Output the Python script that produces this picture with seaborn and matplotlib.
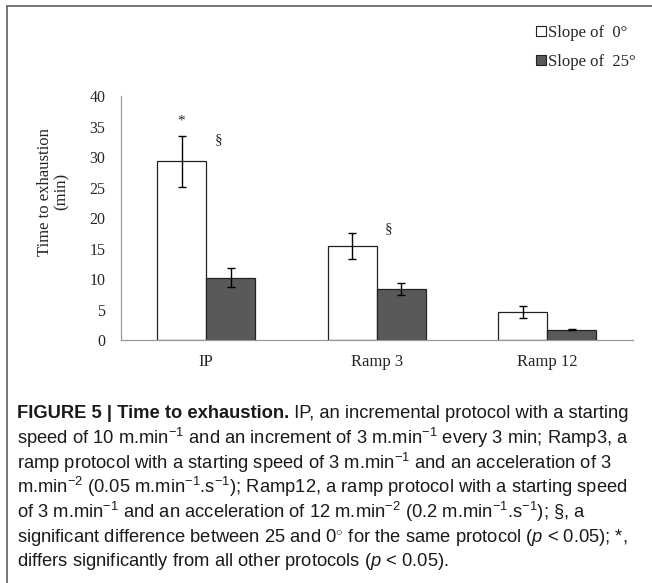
import numpy as np
import pandas as pd
import matplotlib
matplotlib.use("Agg")
import matplotlib.pyplot as plt
from matplotlib.lines import Line2D
import seaborn as sns

# data
protocols = ["IP", "Ramp 3", "Ramp 12"]
slopes = ["Slope of  0°", "Slope of  25°"]
time_0 = [29.3, 15.4, 4.55]
time_25 = [10.2, 8.4, 1.7]
err_0 = [4.2, 2.15, 1.0]
err_25 = [1.55, 0.95, 0.12]
# significance marks: (protocol index, slope index, symbol, height)
marks = [(0, 0, "*", 35.9), (0, 1, "§", 32.8), (1, 1, "§", 18.2)]

bar_colors = ["#ffffff", "#595959"]

df = pd.DataFrame({
    "protocol": protocols * 2,
    "slope": [slopes[0]] * 3 + [slopes[1]] * 3,
    "time": time_0 + time_25,
})

sns.set_style("white")
plt.rcParams["font.family"] = ["Liberation Serif", "DejaVu Serif"]
plt.rcParams["mathtext.fontset"] = "custom"
plt.rcParams["mathtext.rm"] = "Liberation Sans"
plt.rcParams["mathtext.it"] = "Liberation Sans:italic"
plt.rcParams["mathtext.bf"] = "Liberation Sans:bold"

fig = plt.figure(figsize=(6.52, 5.83), dpi=100)
ax = fig.add_axes([0.1851, 0.4168, 0.7853, 0.4185])

sns.barplot(data=df, x="protocol", y="time", hue="slope", order=protocols,
            hue_order=slopes, palette=bar_colors, width=0.574, errorbar=None,
            edgecolor="#222222", linewidth=0.9, legend=False, ax=ax)

# error bars on top of the bars seaborn drew
bars = ax.patches[:6]
errs = err_0 + err_25
vals = time_0 + time_25
for p, v, e in zip(bars, vals, errs):
    xc = p.get_x() + p.get_width() / 2
    ax.errorbar(xc, v, yerr=e, fmt="none", ecolor="black", elinewidth=1.0,
                capsize=3, capthick=1.0)

for pi, si, sym, y in marks:
    p = bars[si * 3 + pi]
    xc = p.get_x() + p.get_width() / 2
    if si == 1:
        xc = p.get_x() + p.get_width() * 0.25
    ax.text(xc, y, sym, ha="center", va="center", fontsize=11)

ax.set_ylim(0, 40)
ax.set_xlim(-0.5, 2.5)
ax.set_yticks(range(0, 41, 5))
ax.set_xticks(range(3))
ax.set_xticklabels(protocols)
ax.set_xticks([-0.5, 0.5, 1.5, 2.5], minor=True)
ax.tick_params(axis="x", which="major", length=0, pad=10, labelsize=12)
ax.tick_params(axis="x", which="minor", length=4, color="#999999", width=0.9)
ax.tick_params(axis="y", length=4, color="#999999", width=0.9, labelsize=11.5, pad=7)
ax.set_xlabel("")
ax.set_ylabel("Time to exhaustion\n(min)", fontsize=12, linespacing=1.0)
ax.yaxis.set_label_coords(-0.1, 0.607)
sns.despine(ax=ax)
for s in ["left", "bottom"]:
    ax.spines[s].set_color("#999999")
    ax.spines[s].set_linewidth(0.9)

handles = [Line2D([], [], marker="s", ls="none", markersize=6.5, markerfacecolor=c,
                  markeredgecolor="#222222", markeredgewidth=0.8) for c in bar_colors]
fig.legend(handles, slopes, loc="upper left", bbox_to_anchor=(0.818, 0.957),
           frameon=False, fontsize=12, handletextpad=0.0, handlelength=0.9,
           labelspacing=0.75, borderaxespad=0, borderpad=0)

# frame of the figure panel (left and top only)
fig.add_artist(Line2D([0.011, 0.011], [0, 0.99], transform=fig.transFigure,
                      color="#6b6b6b", lw=1.3))
fig.add_artist(Line2D([0.011, 1.0], [0.99, 0.99], transform=fig.transFigure,
                      color="#6b6b6b", lw=1.3))

# caption
cap_font = dict(family="Liberation Sans", fontsize=13.2, color="#1a1a1a")
cap_lines = [
    "speed of 10 m.min$^{-1}$ and an increment of 3 m.min$^{-1}$ every 3 min; Ramp3, a",
    "ramp protocol with a starting speed of 3 m.min$^{-1}$ and an acceleration of 3",
    "m.min$^{-2}$ (0.05 m.min$^{-1}$.s$^{-1}$); Ramp12, a ramp protocol with a starting speed",
    "of 3 m.min$^{-1}$ and an acceleration of 12 m.min$^{-2}$ (0.2 m.min$^{-1}$.s$^{-1}$); §, a",
    "significant difference between 25 and 0$^{\\circ}$ for the same protocol ($p$ < 0.05); *,",
    "differs significantly from all other protocols ($p$ < 0.05).",
]
x0 = 17 / 652
y_first = 1 - 413 / 583
step = 24.8 / 583
t0 = fig.text(x0, y_first, "FIGURE 5 | Time to exhaustion.", fontweight="bold",
              va="center", **cap_font)
ax.annotate(" IP, an incremental protocol with a starting", xy=(1, 0.5),
            xycoords=t0, va="center", ha="left", annotation_clip=False, **cap_font)
for i, line in enumerate(cap_lines):
    fig.text(x0, y_first - (i + 1) * step, line, va="center", **cap_font)

fig.savefig("out.png", dpi=100)
